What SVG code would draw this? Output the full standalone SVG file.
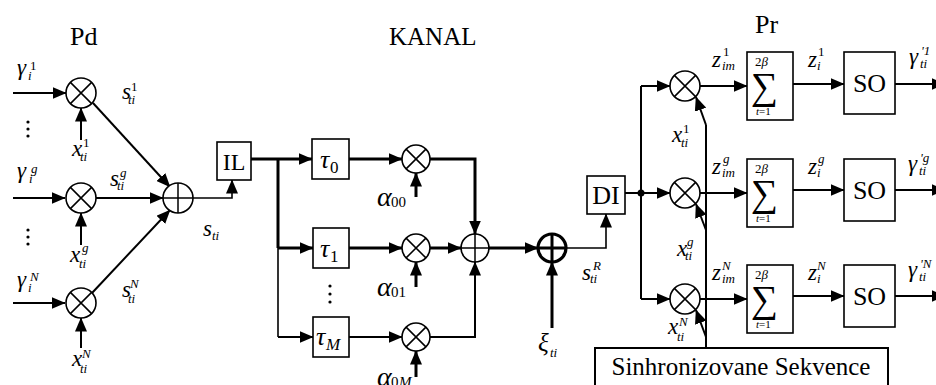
<svg xmlns="http://www.w3.org/2000/svg" width="936" height="385" viewBox="0 0 936 385" font-family="'Liberation Serif', 'Times New Roman', serif">
<defs>
<marker id="ah" markerUnits="userSpaceOnUse" markerWidth="14" markerHeight="12" viewBox="0 0 14 12" refX="13.5" refY="6" orient="auto"><path d="M0,0 L14,6 L0,12 z" fill="#000"/></marker>
</defs>
<style>
.c{fill:#fff;stroke:#000;stroke-width:1.6}
.cb{fill:#fff;stroke:#000;stroke-width:3.2}
.x{stroke:#000;stroke-width:1.5}
.xb{stroke:#000;stroke-width:3}
.box{fill:#fff;stroke:#000;stroke-width:1.6}
.w{fill:none;stroke:#000;stroke-width:2}
.t{fill:none;stroke:#000;stroke-width:1.6}
.k{fill:none;stroke:#000;stroke-width:3}
.a{marker-end:url(#ah)}
text{font-family:"Liberation Serif","Times New Roman",serif;fill:#000}
.tt{font-size:26px}
.bx{font-size:25px;text-anchor:middle}
.m{font-size:23px;font-style:italic}
.s{font-size:13px}
.si{font-size:13px;font-style:italic}
.g{font-size:28px;font-style:italic}
.d{font-size:15px}
</style>

<!-- connectors -->
<g id="connectors">
<path class="w a" d="M13,93 L66,93"/>
<path class="w a" d="M13,198 L65,198"/>
<path class="w a" d="M13,303 L65,303"/>
<path class="w a" d="M81,140 L81,108"/>
<path class="w a" d="M81,245 L81,213"/>
<path class="w a" d="M81,348 L81,318"/>
<path class="w a" d="M93,103 L170,187"/>
<path class="w a" d="M96,198 L163,198"/>
<path class="w a" d="M92,293 L170,210"/>
<path class="t a" d="M193,198 L232,198 L232,180"/>
<path class="k a" d="M251,159 L312,159"/>
<path class="k" d="M278,159 L278,248"/>
<path class="t" d="M278,248 L278,337"/>
<path class="k a" d="M278,248 L313,248"/>
<path class="w a" d="M278,337 L313,337"/>
<path class="k a" d="M349,159 L402,159"/>
<path class="k a" d="M349,248 L402,248"/>
<path class="w a" d="M349,337 L402,337"/>
<path class="k a" d="M416,197 L416,173"/>
<path class="k a" d="M416,287 L416,262"/>
<path class="k a" d="M416,377 L416,351"/>
<path class="k a" d="M430,159 L475,159 L475,234"/>
<path class="k a" d="M430,248 L461,248"/>
<path class="w a" d="M430,337 L475,337 L475,262"/>
<path class="k a" d="M489,248 L538,248"/>
<path class="k a" d="M552,328 L552,262"/>
<path class="t a" d="M566,248 L606,248 L606,214"/>
<path class="w" d="M625,193 L641,193"/>
<path class="w" d="M641,86 L641,299"/>
<path class="w a" d="M641,86 L670,86"/>
<path class="w a" d="M641,193 L670,193"/>
<path class="w a" d="M641,299 L670,299"/>
<path class="w a" d="M700,86 L747,86"/>
<path class="w a" d="M700,193 L747,193"/>
<path class="w a" d="M700,299 L747,299"/>
<path class="w a" d="M793,84 L844,84"/>
<path class="w a" d="M793,190 L844,190"/>
<path class="w a" d="M793,296 L844,296"/>
<path class="w a" d="M895,84 L945,84"/>
<path class="w a" d="M895,190 L945,190"/>
<path class="w a" d="M895,296 L945,296"/>
<path class="w" d="M706,348 L706,125"/>
<path class="w a" d="M706,125 L696,97"/>
<path class="w a" d="M706,230 L696,204"/>
<path class="w a" d="M706,337 L696,310"/>
<circle cx="641" cy="193" r="3.5" fill="#000"/>
</g>

<text class="tt" x="70" y="45">Pd</text>
<text class="tt" x="389" y="45" style="font-size:25px">KANAL</text>
<text class="tt" x="755" y="33">Pr</text>

<g id="m1"><circle class="c" cx="81" cy="93" r="15"/><path class="x" d="M70.4,82.4 L91.6,103.6 M91.6,82.4 L70.4,103.6"/></g>
<g id="mg"><circle class="c" cx="81" cy="198" r="15"/><path class="x" d="M70.4,187.4 L91.6,208.6 M91.6,187.4 L70.4,208.6"/></g>
<g id="mN"><circle class="c" cx="81" cy="303" r="15"/><path class="x" d="M70.4,292.4 L91.6,313.6 M91.6,292.4 L70.4,313.6"/></g>
<g id="sum1"><circle class="c" cx="178" cy="198" r="15"/><path class="x" d="M163,198 L193,198 M178,183 L178,213"/></g>
<g id="dots-left" fill="#000"><circle cx="28" cy="122" r="1.6"/><circle cx="28" cy="129" r="1.6"/><circle cx="28" cy="136" r="1.6"/><circle cx="28" cy="230" r="1.6"/><circle cx="28" cy="237" r="1.6"/><circle cx="28" cy="244" r="1.6"/></g>

<g id="lbl-left">
<text class="m" x="17" y="75">γ</text><text class="s" x="30" y="70">1</text><text class="si" x="28" y="80">i</text>
<text class="m" x="17" y="178">γ</text><text class="si" x="31" y="173">g</text><text class="si" x="29" y="183">i</text>
<text class="m" x="17" y="287">γ</text><text class="si" x="30" y="281">N</text><text class="si" x="28" y="292">i</text>
<text class="m" x="72" y="156">x</text><text class="s" x="83" y="147">1</text><text class="si" x="80" y="161">ti</text>
<text class="m" x="70" y="262">x</text><text class="si" x="82" y="252">g</text><text class="si" x="79" y="268">ti</text>
<text class="m" x="72" y="366">x</text><text class="si" x="82" y="358">N</text><text class="si" x="80" y="373">ti</text>
<text class="m" x="122" y="99">s</text><text class="s" x="131" y="91">1</text><text class="si" x="128" y="104">ti</text>
<text class="m" x="110" y="186">s</text><text class="si" x="120" y="177">g</text><text class="si" x="117" y="190">ti</text>
<text class="m" x="122" y="297">s</text><text class="si" x="130" y="288">N</text><text class="si" x="128" y="303">ti</text>
<text class="m" x="203" y="236">s</text><text class="si" x="212" y="240">ti</text>
</g>

<g id="IL"><rect class="box" x="217" y="142" width="34" height="38"/><text class="bx" x="234" y="170" style="font-size:24px">IL</text></g>

<g id="tau0"><rect class="box" x="312" y="139" width="37" height="40"/><text class="m" x="320" y="168" style="font-size:26px">τ</text><text class="d" x="330" y="173" style="font-size:17px">0</text></g>
<g id="tau1"><rect class="box" x="313" y="228" width="36" height="40"/><text class="m" x="320" y="257" style="font-size:26px">τ</text><text class="d" x="330" y="262" style="font-size:17px">1</text></g>
<g id="tauM"><rect class="box" x="313" y="317" width="36" height="40"/><text class="m" x="316" y="345" style="font-size:26px">τ</text><text class="m" x="326" y="350" style="font-size:17px">M</text></g>
<g id="dots-ch" fill="#000"><circle cx="330" cy="286" r="1.6"/><circle cx="330" cy="294" r="1.6"/><circle cx="330" cy="302" r="1.6"/></g>
<g id="c0"><circle class="c" cx="416" cy="159" r="14"/><path class="x" d="M406.1,149.1 L425.9,168.9 M425.9,149.1 L406.1,168.9"/></g>
<g id="c1"><circle class="c" cx="416" cy="248" r="14"/><path class="x" d="M406.1,238.1 L425.9,257.9 M425.9,238.1 L406.1,257.9"/></g>
<g id="cM"><circle class="c" cx="416" cy="337" r="14"/><path class="x" d="M406.1,327.1 L425.9,346.9 M425.9,327.1 L406.1,346.9"/></g>
<g id="sum2"><circle class="c" cx="475" cy="248" r="14"/><path class="x" d="M461,248 L489,248 M475,234 L475,262"/></g>
<g id="noise"><circle class="cb" cx="552" cy="248" r="14"/><path class="xb" d="M538,248 L566,248 M552,234 L552,262"/></g>
<g id="lbl-ch">
<text class="g" x="377" y="206">α</text><text class="d" x="391" y="207">00</text>
<text class="g" x="377" y="296">α</text><text class="d" x="391" y="297">01</text>
<text class="g" x="377" y="386">α</text><text class="d" x="391" y="387">0</text><text class="d" x="399" y="387" style="font-style:italic">M</text>
<text class="m" x="538" y="351" style="font-size:25px">ξ</text><text class="si" x="550" y="357">ti</text>
<text class="m" x="582" y="280">s</text><text class="si" x="593" y="270">R</text><text class="si" x="590" y="283">ti</text>
</g>
<g id="DI"><rect class="box" x="587" y="176" width="38" height="38"/><text class="bx" x="606" y="204" style="font-size:26px">DI</text></g>

<g id="r1"><circle class="c" cx="685" cy="86" r="15"/><path class="x" d="M674.4,75.4 L695.6,96.6 M695.6,75.4 L674.4,96.6"/></g>
<g id="rg"><circle class="c" cx="685" cy="193" r="15"/><path class="x" d="M674.4,182.4 L695.6,203.6 M695.6,182.4 L674.4,203.6"/></g>
<g id="rN"><circle class="c" cx="685" cy="299" r="15"/><path class="x" d="M674.4,288.4 L695.6,309.6 M695.6,288.4 L674.4,309.6"/></g>

<g id="sig1"><rect class="box" x="747" y="52" width="46" height="68"/><text class="s" x="755" y="66">2<tspan font-style="italic">β</tspan></text><text x="751" y="99" style="font-size:38px">∑</text><text x="756" y="115" style="font-size:11px"><tspan font-style="italic">t</tspan>=1</text></g>
<g id="sig2"><rect class="box" x="747" y="159" width="46" height="68"/><text class="s" x="755" y="173">2<tspan font-style="italic">β</tspan></text><text x="751" y="206" style="font-size:38px">∑</text><text x="756" y="222" style="font-size:11px"><tspan font-style="italic">t</tspan>=1</text></g>
<g id="sig3"><rect class="box" x="747" y="265" width="46" height="68"/><text class="s" x="755" y="279">2<tspan font-style="italic">β</tspan></text><text x="751" y="312" style="font-size:38px">∑</text><text x="756" y="328" style="font-size:11px"><tspan font-style="italic">t</tspan>=1</text></g>

<g id="so1"><rect class="box" x="844" y="52" width="51" height="62"/><text class="bx" x="869.5" y="92" style="font-size:26px">SO</text></g>
<g id="so2"><rect class="box" x="844" y="159" width="51" height="62"/><text class="bx" x="869.5" y="199" style="font-size:26px">SO</text></g>
<g id="so3"><rect class="box" x="844" y="265" width="51" height="62"/><text class="bx" x="869.5" y="305" style="font-size:26px">SO</text></g>

<g id="sync"><rect class="box" x="595" y="348" width="293" height="50" style="stroke-width:2"/><text x="741" y="375" style="font-size:25px;text-anchor:middle">Sinhronizovane Sekvence</text></g>

<g id="lbl-rx">
<text class="m" x="712" y="67">z</text><text class="s" x="723" y="56">1</text><text class="si" x="722" y="70">im</text>
<text class="m" x="712" y="174">z</text><text class="si" x="723" y="163">g</text><text class="si" x="722" y="177">im</text>
<text class="m" x="712" y="280">z</text><text class="si" x="722" y="270">N</text><text class="si" x="722" y="283">im</text>
<text class="m" x="808" y="67">z</text><text class="s" x="818" y="56">1</text><text class="si" x="817" y="70">i</text>
<text class="m" x="808" y="174">z</text><text class="si" x="818" y="163">g</text><text class="si" x="817" y="177">i</text>
<text class="m" x="808" y="280">z</text><text class="si" x="817" y="270">N</text><text class="si" x="817" y="283">i</text>
<text class="m" x="909" y="64">γ</text><text class="si" x="921" y="55">'1</text><text class="si" x="920" y="68">ti</text>
<text class="m" x="908" y="171">γ</text><text class="si" x="920" y="162">'g</text><text class="si" x="919" y="175">ti</text>
<text class="m" x="908" y="277">γ</text><text class="si" x="920" y="268">'N</text><text class="si" x="919" y="281">ti</text>
<text class="m" x="672" y="142">x</text><text class="s" x="683" y="133">1</text><text class="si" x="681" y="147">ti</text>
<text class="m" x="677" y="256">x</text><text class="si" x="687" y="246">g</text><text class="si" x="685" y="260">ti</text>
<text class="m" x="668" y="334">x</text><text class="si" x="679" y="326">N</text><text class="si" x="677" y="341">ti</text>
</g>
</svg>
